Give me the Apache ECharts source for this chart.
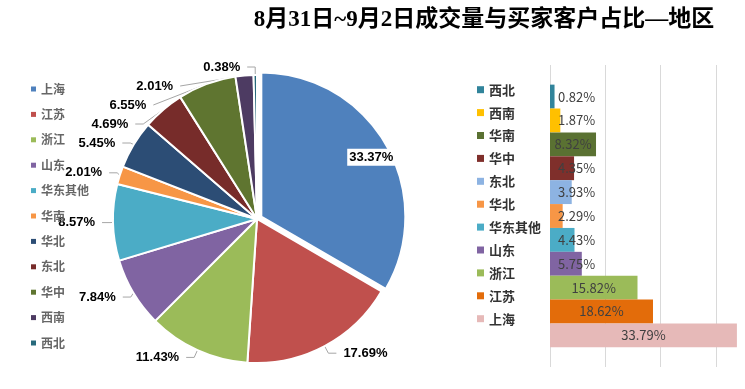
<!DOCTYPE html>
<html>
<head>
<meta charset="utf-8">
<script src="https://cdn.jsdelivr.net/npm/echarts@6/dist/echarts.min.js"></script>
<style>
html,body{margin:0;padding:0;background:#fff;}
#chart{width:745px;height:389px;}
</style>
</head>
<body>
<div id="chart"></div>
<script>
// ---- data ----
var TITLE = '8月31日~9月2日成交量与买家客户占比—地区';
var pieNames = ['上海','江苏','浙江','山东','华东其他','华南','华北','东北','华中','西南','西北'];
var pieValues = [33.37, 17.69, 11.43, 7.84, 8.57, 2.01, 5.45, 4.69, 6.55, 2.01, 0.38];
var pieColors = ['#4F81BD','#C0504D','#9BBB59','#8064A2','#4BACC6','#F79646','#2C4D75','#772C2A','#5F7530','#4D3B62','#276A7C'];

// bar series: listed top-to-bottom
var barNames = ['西北','西南','华南','华中','东北','华北','华东其他','山东','浙江','江苏','上海'];
var barValues = [0.82, 1.87, 8.32, 4.35, 3.93, 2.29, 4.43, 5.75, 15.82, 18.62, 33.79];
var barColors = ['#31849B','#FFC000','#5A7132','#7F2F2B','#8DB3E2','#F79646','#4BACC6','#8064A2','#9BBB59','#E36C0A','#E6B9B8'];
var xTicks = [0, 10, 20, 30];

var chart = echarts.init(document.getElementById('chart'));

var PIE_CENTER = [257, 219], PIE_R = 144;
var pieSum = pieValues.reduce(function (a, b) { return a + b; }, 0);

var pieData = pieNames.map(function (n, i) {
  var d = { name: n, value: pieValues[i], itemStyle: { color: pieColors[i] } };
  if (i === 0) { d.selected = true; d.label = { position: 'inside' }; }
  return d;
});

var barSeries = barNames.map(function (n, i) {
  var v = barValues[i];
  return {
    type: 'bar',
    name: n,
    data: [v],
    barGap: '0%',
    barCategoryGap: '13%',
    itemStyle: { color: barColors[i] },
    label: {
      show: true,
      position: v > 8 ? 'inside' : 'insideLeft',
      distance: 8,
      formatter: function (p) { return p.value.toFixed(2) + '%'; },
      color: '#404040',
      fontSize: 13,
      fontFamily: 'Noto Sans CJK SC, sans-serif'
    },
    silent: true
  };
});

var option = {
  animation: false,
  backgroundColor: '#fff',
  title: {
    text: TITLE,
    left: 479, top: 4,
    textAlign: 'center',
    textStyle: {
      fontFamily: '"Liberation Serif", "Noto Sans CJK SC", serif',
      fontWeight: 'bold', fontSize: 23, color: '#000'
    }
  },
  legend: [
    {
      orient: 'vertical', left: 26, top: 77,
      icon: 'rect', itemWidth: 5, itemHeight: 5, itemGap: 11.4,
      textStyle: { fontSize: 12, lineHeight: 14, color: '#666', fontWeight: 'bold',
                   fontFamily: 'Noto Sans CJK SC, sans-serif' },
      data: pieNames.map(function (n, i) { return { name: n, itemStyle: { color: pieColors[i] } }; }),
      selectedMode: false
    },
    {
      orient: 'vertical', left: 472, top: 78,
      icon: 'rect', itemWidth: 7, itemHeight: 7, itemGap: 9.5, itemTextGap: 4,
      textStyle: { fontSize: 13, lineHeight: 13.4, color: '#333', fontWeight: 'bold',
                   fontFamily: 'Noto Sans CJK SC, sans-serif' },
      data: barNames.map(function (n, i) { return { name: n, itemStyle: { color: barColors[i] } }; }),
      selectedMode: false
    }
  ],
  grid: { left: 550, top: 65, width: 193.6, height: 302 },
  xAxis: {
    type: 'value', min: xTicks[0], max: 35, interval: 10,
    axisLabel: { show: false }, axisLine: { show: false }, axisTick: { show: false },
    splitLine: { show: true, showMaxLine: false, lineStyle: { color: '#D9D9D9' } }
  },
  yAxis: {
    type: 'category', data: [''],
    axisLabel: { show: false }, axisLine: { show: false }, axisTick: { show: false }
  },
  series: [
    {
      type: 'pie',
      center: PIE_CENTER, radius: PIE_R,
      startAngle: 90, clockwise: true,
      selectedMode: 'single', selectedOffset: 5,
      itemStyle: { borderColor: '#fff', borderWidth: 2 },
      label: {
        show: true,
        formatter: function (p) { return p.value.toFixed(2) + '%'; },
        color: '#000', fontWeight: 'bold', fontSize: 13,
        fontFamily: '"Liberation Sans", sans-serif',
        backgroundColor: '#fff', padding: [2, 2]
      },
      labelLine: { show: true, length: 8, length2: 8, lineStyle: { color: '#A6A6A6', width: 1 } },
      labelLayout: function (params) {
        if (params.dataIndex !== 0) return {};
        // push the inside label of the first slice out toward its rim
        var mid = (90 - 360 * (pieValues[0] / 2) / pieSum) * Math.PI / 180;
        var shift = PIE_R * (0.86 - 0.5);
        return { dx: shift * Math.cos(mid), dy: -shift * Math.sin(mid) + 4 };
      },
      emphasis: { disabled: true },
      data: pieData
    }
  ].concat(barSeries)
};
chart.setOption(option);
</script>
</body>
</html>
